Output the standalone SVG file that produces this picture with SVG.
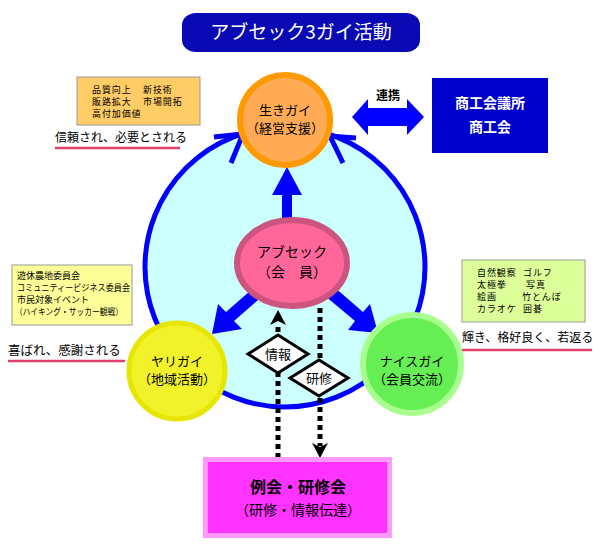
<svg xmlns="http://www.w3.org/2000/svg" width="600" height="548" viewBox="0 0 600 548">
<style>
text{font-family:"Noto Sans CJK JP","Noto Sans",sans-serif;fill:#000;}
.c{text-anchor:middle;}
.w{fill:#fff;}
.b{font-weight:bold;}
.note{font-size:9px;letter-spacing:0.9px;}
.blue{fill:#0000ff;}
.dot{stroke:#000;stroke-width:5;stroke-dasharray:5 4;fill:none;}
.ul{stroke:#e0406a;stroke-width:2.5;}
</style>
<rect width="600" height="548" fill="#fff"/>

<g id="title">
<rect x="182" y="13" width="238" height="39" rx="14" ry="12" fill="#0a0ab4"/>
<text x="301" y="39" class="c w" font-size="19">アブセック3ガイ活動</text>
</g>

<g id="cycle">
<circle cx="285" cy="267" r="140" fill="#ccffff" stroke="#0000ff" stroke-width="5"/>
<polyline points="214,137 243,134 231,163" fill="none" stroke="#0000ff" stroke-width="5" stroke-linejoin="miter"/>
<polyline points="356,138 330,136 343,163" fill="none" stroke="#0000ff" stroke-width="5" stroke-linejoin="miter"/>
</g>

<g id="connectors">
<polygon class="blue" points="282,222 282,195 272,195 287,167 302,195 292,195 292,222"/>
<polygon class="blue" points="266,293 258,284 226,312 218,304 212,334 242,329 234,321"/>
<polygon class="blue" points="318,290 326,280 363,312 370,304 378,333 348,330 355,321"/>
<polygon class="blue" points="352,117 368,99 368,108 407,108 407,99 424,117 407,135 407,126 368,126 368,135"/>
<line class="dot" x1="278" y1="458" x2="278" y2="324"/>
<polygon points="278,310 286,325 278,321 270,325" fill="#000"/>
<line class="dot" x1="320" y1="308" x2="320" y2="446"/>
<polygon points="320,458 312,443 320,447 328,443" fill="#000"/>
</g>

<g id="ikigai">
<circle cx="285" cy="120" r="45" fill="#ffaa55" stroke="#ff9900" stroke-width="6"/>
<text x="285" y="115" class="c" font-size="13">生きガイ</text>
<text x="285" y="133" class="c" font-size="13">（経営支援）</text>
</g>

<g id="absec">
<ellipse cx="292" cy="263" rx="55" ry="43" fill="#ff6699" stroke="#cc5580" stroke-width="6"/>
<text x="292" y="257" class="c" font-size="14">アブセック</text>
<text x="292" y="277" class="c" font-size="14">（会　員）</text>
</g>

<g id="yarigai">
<circle cx="177" cy="371" r="48" fill="#f2f22a" stroke="#e6e600" stroke-width="5"/>
<text x="177" y="366" class="c" font-size="13">ヤリガイ</text>
<text x="177" y="384" class="c" font-size="13">（地域活動）</text>
</g>

<g id="naisugai">
<circle cx="412" cy="364" r="49" fill="#66ee55" stroke="#a8ff90" stroke-width="6"/>
<text x="412" y="366" class="c" font-size="13">ナイスガイ</text>
<text x="412" y="384" class="c" font-size="13">（会員交流）</text>
</g>

<g id="joho">
<polygon points="248,354 278,335 308,354 278,373" fill="#fff" stroke="#000" stroke-width="3"/>
<text x="278" y="359" class="c" font-size="13">情報</text>
</g>

<g id="kenshu">
<polygon points="290,378 319,360 348,378 319,396" fill="#fff" stroke="#000" stroke-width="3"/>
<text x="319" y="383" class="c" font-size="13">研修</text>
</g>

<g id="reikai">
<rect x="205.5" y="459.5" width="184" height="76" fill="#ff33ff" stroke="#ff99ff" stroke-width="5"/>
<text x="298" y="493" class="c b" font-size="16">例会・研修会</text>
<text x="298" y="515" class="c" font-size="14">（研修・情報伝達）</text>
</g>

<g id="shokokai">
<rect x="432" y="78" width="116" height="75" fill="#0000cc"/>
<text x="490" y="108" class="c w b" font-size="14">商工会議所</text>
<text x="490" y="132" class="c w b" font-size="14">商工会</text>
<text x="388" y="100" class="c b" font-size="12">連携</text>
</g>

<g id="note-ikigai">
<rect x="77" y="77" width="123" height="48" fill="#ffcc66" stroke="#999" stroke-width="1"/>
<text x="92" y="93" class="note">品質向上</text><text x="143" y="93" class="note">新技術</text>
<text x="92" y="105" class="note">販路拡大</text><text x="143" y="105" class="note">市場開拓</text>
<text x="92" y="117" class="note">高付加価値</text>
<text x="55" y="142" font-size="12">信頼され、必要とされる</text>
<line class="ul" x1="55" y1="148" x2="180" y2="148"/>
</g>

<g id="note-yarigai">
<rect x="12" y="265" width="120" height="60" fill="#ffff99" stroke="#999" stroke-width="1"/>
<text x="17" y="279" font-size="9">遊休農地委員会</text>
<text x="17" y="291" font-size="9" textLength="113" lengthAdjust="spacingAndGlyphs">コミュニティービジネス委員会</text>
<text x="17" y="303" font-size="9">市民対象イベント</text>
<text x="15" y="315" font-size="9" textLength="108" lengthAdjust="spacingAndGlyphs">（ハイキング・サッカー観戦）</text>
<text x="8" y="355" font-size="12.5">喜ばれ、感謝される</text>
<line class="ul" x1="8" y1="361" x2="125" y2="361"/>
</g>

<g id="note-naisugai">
<rect x="462" y="260" width="123" height="62" fill="#ddff99" stroke="#999" stroke-width="1"/>
<text x="477" y="276" class="note">自然観察</text><text x="523" y="276" class="note">ゴルフ</text>
<text x="477" y="288" class="note">太極拳</text><text x="526" y="288" class="note">写真</text>
<text x="477" y="300" class="note">絵画</text><text x="522" y="300" class="note">竹とんぼ</text>
<text x="477" y="312" class="note">カラオケ</text><text x="523" y="312" class="note">囲碁</text>
<text x="462" y="342" font-size="12">輝き、格好良く、若返る</text>
<line class="ul" x1="462" y1="350" x2="592" y2="350"/>
</g>
</svg>
